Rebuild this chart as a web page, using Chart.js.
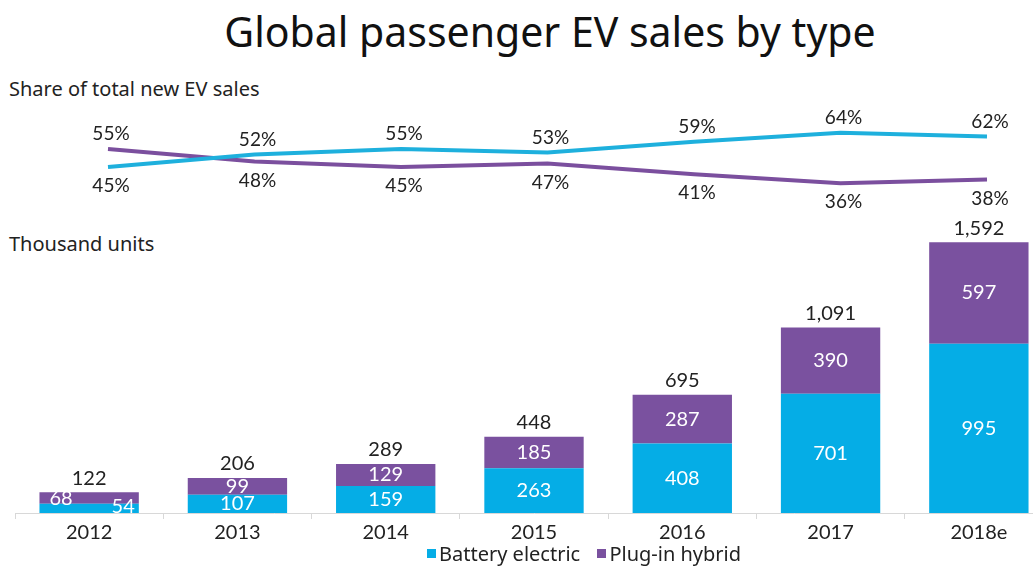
<!DOCTYPE html>
<html>
<head>
<meta charset="utf-8">
<script src="https://cdn.jsdelivr.net/npm/chart.js@4.4.1/dist/chart.umd.min.js"></script>
<style>
  html, body { margin: 0; padding: 0; background: #fff; overflow: hidden; }
  body { width: 1033px; height: 569px; position: relative; font-family: "Noto Sans", Lato, sans-serif; color: #222; }
  .title { position: absolute; left: 0; width: 1100px; top: 3px; text-align: center; font-size: 41px; line-height: 56px; color: #111; }
  .sub { position: absolute; left: 9px; font-size: 20px; line-height: 26px; color: #222; }
  #share { position: absolute; left: 0; top: 100px; }
  #units { position: absolute; left: 0; top: 200px; }
  .legend { position: absolute; left: 427px; top: 541px; font-size: 20px; line-height: 26px; color: #222; white-space: nowrap; }
  .legend span.box { display: inline-block; width: 9px; height: 9px; margin-right: 3px; vertical-align: 3px; }
</style>
</head>
<body>
<div class="title">Global passenger EV sales by type</div>
<div class="sub" style="top:76px">Share of total new EV sales</div>
<div class="sub" style="top:231px">Thousand units</div>
<canvas id="share" width="1033" height="110"></canvas>
<canvas id="units" width="1060" height="350"></canvas>
<div class="legend">
  <span class="box" style="background:#05ade6"></span>Battery electric
  <span class="box" style="background:#7a519f; margin-left:12px"></span>Plug-in hybrid
</div>
<script>
// values
const years = ['2012', '2013', '2014', '2015', '2016', '2017', '2018e'];
const bevShare = [45, 52, 55, 53, 59, 64, 62];
const phevShare = [55, 48, 45, 47, 41, 36, 38];
const bevUnits = [54, 107, 159, 263, 408, 701, 995];
const phevUnits = [68, 99, 129, 185, 287, 390, 597];
const totalUnits = [122, 206, 289, 448, 695, 1091, 1592];

const CYAN = '#05ade6';
const PURPLE = '#7a519f';
const FONT = 'Lato, "Noto Sans", sans-serif';

// percentage labels: higher value above its line, lower one below
const shareLabels = {
  id: 'shareLabels',
  afterDatasetsDraw(chart) {
    const { ctx } = chart;
    const a = chart.getDatasetMeta(0).data;
    const b = chart.getDatasetMeta(1).data;
    ctx.save();
    ctx.font = '19px ' + FONT;
    ctx.fillStyle = '#222';
    ctx.textAlign = 'center';
    ctx.textBaseline = 'middle';
    years.forEach((_, i) => {
      const up = bevShare[i] >= phevShare[i] ? a[i] : b[i];
      const down = bevShare[i] >= phevShare[i] ? b[i] : a[i];
      const upVal = Math.max(bevShare[i], phevShare[i]);
      const downVal = Math.min(bevShare[i], phevShare[i]);
      ctx.fillText(upVal + '%', up.x + 3, up.y - 15);
      ctx.fillText(downVal + '%', down.x + 3, down.y + 19);
    });
    ctx.restore();
  },
};

new Chart(document.getElementById('share'), {
  type: 'line',
  data: {
    labels: years,
    datasets: [
      { label: 'Battery electric', data: bevShare, borderColor: '#1eb0dd', borderWidth: 4, pointRadius: 0, tension: 0 },
      { label: 'Plug-in hybrid', data: phevShare, borderColor: '#7b4f9e', borderWidth: 4, pointRadius: 0, tension: 0 },
    ],
  },
  options: {
    responsive: false,
    animation: false,
    layout: { padding: { left: 108, right: 46, top: 22, bottom: 16 } },
    plugins: { legend: { display: false }, tooltip: { enabled: false } },
    scales: {
      x: { display: false },
      y: { display: false, min: 30, max: 70 },
    },
  },
  plugins: [shareLabels],
});

// white segment values and dark totals on the bars
const barLabels = {
  id: 'barLabels',
  afterDatasetsDraw(chart) {
    const { ctx } = chart;
    const bev = chart.getDatasetMeta(0).data;
    const phev = chart.getDatasetMeta(1).data;
    ctx.save();
    ctx.textBaseline = 'middle';
    years.forEach((_, i) => {
      const b = bev[i];
      const p = phev[i];
      const half = b.width / 2;
      ctx.font = '20px ' + FONT;
      ctx.fillStyle = '#fff';
      if (b.base - p.y < 30) {
        // bar too short: put the two values side by side
        ctx.textAlign = 'left';
        ctx.fillText(String(phevUnits[i]), b.x - half + 10, p.y + 6);
        ctx.textAlign = 'right';
        ctx.fillText(String(bevUnits[i]), b.x + half - 4, b.y + 3);
      } else {
        ctx.textAlign = 'center';
        ctx.fillText(String(bevUnits[i]), b.x, (b.y + b.base) / 2);
        ctx.fillText(String(phevUnits[i]), p.x, (p.y + p.base) / 2);
      }
      ctx.textAlign = 'center';
      ctx.fillStyle = '#222';
      ctx.fillText(totalUnits[i].toLocaleString('en-US'), p.x, p.y - 14);
    });
    ctx.restore();
  },
};

new Chart(document.getElementById('units'), {
  type: 'bar',
  data: {
    labels: years,
    datasets: [
      { label: 'Battery electric', data: bevUnits, backgroundColor: CYAN, barPercentage: 0.67, categoryPercentage: 1 },
      { label: 'Plug-in hybrid', data: phevUnits, backgroundColor: PURPLE, barPercentage: 0.67, categoryPercentage: 1 },
    ],
  },
  options: {
    responsive: false,
    animation: false,
    layout: { padding: { left: 15, right: 7, top: 29, bottom: 0 } },
    plugins: { legend: { display: false }, tooltip: { enabled: false } },
    scales: {
      x: {
        stacked: true,
        grid: { drawOnChartArea: false, drawTicks: true, tickLength: 6, color: '#d8d8d8' },
        border: { display: true, color: '#d8d8d8' },
        ticks: { color: '#222', font: { family: FONT, size: 20 }, padding: 2 },
        afterFit(scale) { scale.height = 37; },
      },
      y: { stacked: true, display: false, min: 0, max: 1670 },
    },
  },
  plugins: [barLabels],
});
</script>
</body>
</html>
